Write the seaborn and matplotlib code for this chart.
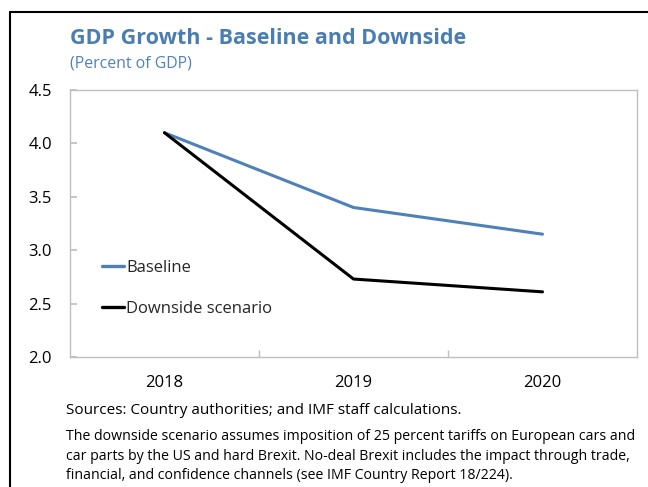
import matplotlib
matplotlib.use("Agg")
import matplotlib.pyplot as plt
import seaborn as sns
import pandas as pd

years = ["2018", "2019", "2020"]
baseline = [4.1, 3.4, 3.15]
downside = [4.1, 2.73, 2.61]
series_names = ["Baseline", "Downside scenario"]
y_ticks = [2.0, 2.5, 3.0, 3.5, 4.0, 4.5]

title = "GDP Growth - Baseline and Downside"
subtitle = "(Percent of GDP)"
source_note = "Sources: Country authorities; and IMF staff calculations."
footnote = ("The downside scenario assumes imposition of 25 percent tariffs on European cars and\n"
            "car parts by the US and hard Brexit. No-deal Brexit includes the impact through trade,\n"
            "financial, and confidence channels (see IMF Country Report 18/224).")

sns.set_theme(style="white")
plt.rcParams["font.family"] = ["Open Sans", "DejaVu Sans"]

df = pd.DataFrame({
    "pos": list(range(len(years))) * 2,
    "value": baseline + downside,
    "series": [series_names[0]] * len(years) + [series_names[1]] * len(years),
})

W, H = 648, 487
fig = plt.figure(figsize=(W / 100, H / 100), dpi=100)
ax = fig.add_axes([70 / W, 1 - 357 / H, (637 - 70) / W, (357 - 90) / H])

palette = {series_names[0]: "#4F81B8", series_names[1]: "#000000"}
sns.lineplot(data=df, x="pos", y="value", hue="series", palette=palette,
             linewidth=2.2, ax=ax, legend=True)

ax.set_xlim(-0.5, len(years) - 0.5)
ax.set_ylim(2.0, 4.5)
ax.set_yticks(y_ticks)
ax.set_yticklabels([f"{t:.1f}" for t in y_ticks])
ax.set_xticks(range(len(years)))
ax.set_xticklabels(years)
ax.set_xticks([0.5, 1.5], minor=True)
ax.set_xlabel("")
ax.set_ylabel("")

for s in ax.spines.values():
    s.set_visible(True)
    s.set_color("#BFBFBF")
    s.set_linewidth(1.0)

ax.tick_params(axis="y", which="major", direction="in", length=5, color="#BFBFBF",
               labelsize=12, labelcolor="black", pad=13, left=True)
ax.tick_params(axis="x", which="major", length=0, labelsize=12, labelcolor="black", pad=13)
ax.tick_params(axis="x", which="minor", direction="in", length=5, color="#BFBFBF", bottom=True)

leg = ax.legend(loc="center left", bbox_to_anchor=(0.045, 0.258), frameon=False,
                fontsize=12, handlelength=1.3, handletextpad=0.15, labelspacing=1.5,
                borderaxespad=0)
for h in leg.get_lines():
    h.set_linewidth(2.4)

fig.text(70 / W, 1 - 38 / H, title, fontsize=15.5, fontweight="bold", color="#4A7EB0",
         va="center", ha="left")
fig.text(70 / W, 1 - 63 / H, subtitle, fontsize=11.4, color="#4F81BD", va="center", ha="left")
fig.text(66 / W, 1 - 411 / H, source_note, fontsize=11, color="black", va="center", ha="left")
fig.text(66 / W, 1 - 429 / H, footnote, fontsize=10.2, color="black", va="top", ha="left",
         linespacing=1.42)

# frame around the figure panel
fig.add_artist(plt.Line2D([9.5 / W, 9.5 / W], [0, 1 - 12 / H], color="black", lw=1.5,
                          transform=fig.transFigure))
fig.add_artist(plt.Line2D([9.5 / W, 1], [1 - 12 / H, 1 - 12 / H], color="black", lw=1.5,
                          transform=fig.transFigure))

fig.savefig("out.png", dpi=100)
